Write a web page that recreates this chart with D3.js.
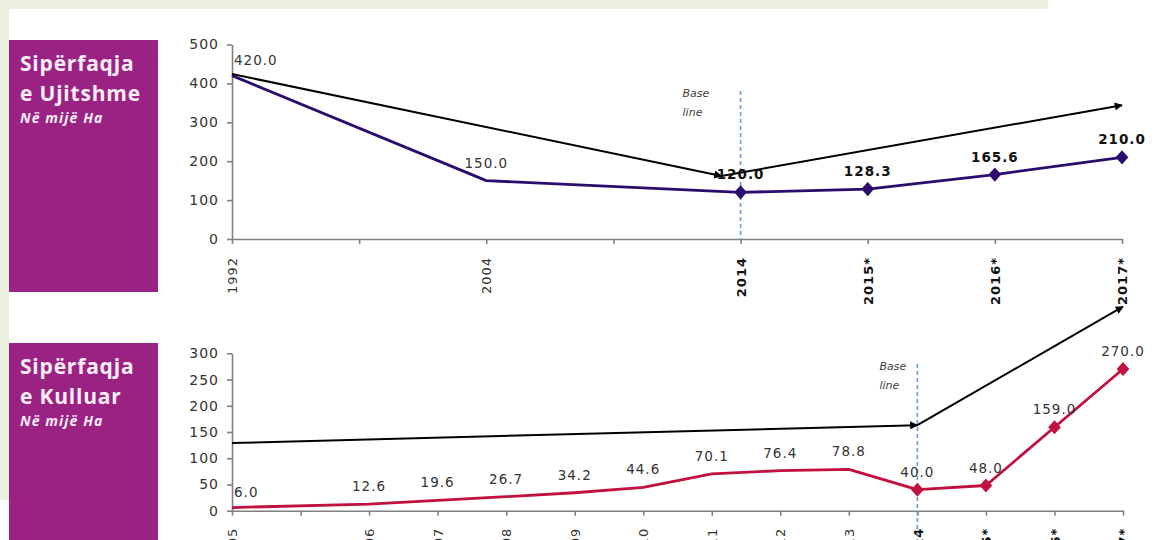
<!DOCTYPE html>
<html>
<head>
<meta charset="utf-8">
<script src="https://cdn.jsdelivr.net/npm/d3@7"></script>
<style>
  body { margin: 0; background: #fff; }
  svg { display: block; }
</style>
</head>
<body>
<svg id="chart" width="1157" height="540"></svg>
<script>
// Irrigated area, thousand ha
const irrCategories = ["1992", "", "2004", "", "2014", "2015*", "2016*", "2017*"];
const irrValues = [420.0, null, 150.0, null, 120.0, 128.3, 165.6, 210.0];
const irrTicks = [0, 100, 200, 300, 400, 500];
// trend arrows as [category position, value]
const irrTrendDown = [[0, 424], [3.85, 162]];
const irrTrendUp = [[3.85, 162], [7, 344]];

// Drained area, thousand ha
const culCategories = ["2005", "", "2006", "2007", "2008", "2009", "2010", "2011", "2012", "2013", "2014", "2015*", "2016*", "2017*"];
const culValues = [6.0, null, 12.6, 19.6, 26.7, 34.2, 44.6, 70.1, 76.4, 78.8, 40.0, 48.0, 159.0, 270.0];
const culTicks = [0, 50, 100, 150, 200, 250, 300];
const culTrendFlat = [[0, 129], [10, 163]];
const culTrendUp = [[10, 163], [13, 389]];

const baseYear = "2014";

const svg = d3.select("#chart");

// page background frame
svg.append("rect").attr("x", 0).attr("y", 0).attr("width", 1048).attr("height", 500).attr("fill", "#ebf1de");
svg.append("rect").attr("x", 9).attr("y", 9).attr("width", 1148).attr("height", 531).attr("fill", "#ffffff");

const defs = svg.append("defs");
defs.append("marker")
  .attr("id", "arrow")
  .attr("viewBox", "0 0 10 10")
  .attr("refX", 9).attr("refY", 5)
  .attr("markerWidth", 10).attr("markerHeight", 8)
  .attr("markerUnits", "userSpaceOnUse")
  .attr("orient", "auto")
  .append("path").attr("d", "M0,0 L10,5 L0,10 Z").attr("fill", "#000");

// wide diamond marker
const wideDiamond = {
  draw(ctx, size) {
    const h = Math.sqrt(size) * 0.55, w = h * 0.9;
    ctx.moveTo(0, -h); ctx.lineTo(w, 0); ctx.lineTo(0, h); ctx.lineTo(-w, 0); ctx.closePath();
  }
};

function titleBox(y, h, lines) {
  svg.append("rect").attr("x", 9).attr("y", y).attr("width", 149).attr("height", h).attr("fill", "#9a2283");
  const t = svg.append("g").attr("font-family", "'Open Sans', sans-serif").attr("fill", "#fbeef8");
  t.append("text").attr("x", 20).attr("y", y + 31).attr("font-size", 21).attr("font-weight", 700)
    .attr("letter-spacing", 0.8).text(lines[0]);
  t.append("text").attr("x", 20).attr("y", y + 61).attr("font-size", 21).attr("font-weight", 700)
    .attr("letter-spacing", 0.8).text(lines[1]);
  t.append("text").attr("x", 20).attr("y", y + 83).attr("font-size", 14).attr("font-weight", 700)
    .attr("font-style", "italic").attr("letter-spacing", 1.1).text(lines[2]);
}

function panel(cfg) {
  const n = cfg.categories.length;
  const baseIdx = cfg.categories.indexOf(baseYear);
  const x = d3.scaleLinear().domain([0, n - 1]).range([cfg.x0, cfg.x1]);
  const y = d3.scaleLinear().domain([0, d3.max(cfg.ticks)]).range([cfg.yBottom, cfg.yTop]);
  const g = svg.append("g");

  // y axis
  const ya = g.append("g").attr("transform", `translate(${cfg.x0},0)`)
    .call(d3.axisLeft(y).tickValues(cfg.ticks).tickSize(5).tickSizeOuter(0).tickPadding(8));
  ya.selectAll("path,line").attr("stroke", "#808080").attr("stroke-width", 1.6);
  ya.selectAll("text").attr("font-family", "'DejaVu Sans', sans-serif").attr("font-size", 14)
    .attr("letter-spacing", 1).attr("fill", "#333");

  // x axis
  const xa = g.append("g").attr("transform", `translate(0,${cfg.yBottom})`)
    .call(d3.axisBottom(x).tickValues(d3.range(n)).tickFormat(i => cfg.categories[i])
      .tickSize(5).tickSizeOuter(0));
  xa.selectAll("path,line").attr("stroke", "#808080").attr("stroke-width", 1.6);
  xa.selectAll("text")
    .attr("transform", "rotate(-90)")
    .attr("x", -cfg.labelGap).attr("y", 0).attr("dy", "0.36em")
    .attr("text-anchor", "end")
    .attr("font-family", "'DejaVu Sans', sans-serif").attr("font-size", 13)
    .attr("letter-spacing", 1)
    .attr("font-weight", (d) => d >= baseIdx ? 700 : 400)
    .attr("fill", (d) => d >= baseIdx ? "#111" : "#333");

  // baseline marker
  g.append("line")
    .attr("x1", x(baseIdx)).attr("x2", x(baseIdx))
    .attr("y1", cfg.baseTop).attr("y2", cfg.baseBottom)
    .attr("stroke", "#6a9bd8").attr("stroke-width", 1.6).attr("stroke-dasharray", "4,3");
  const bl = g.append("g").attr("font-family", "'DejaVu Sans', sans-serif").attr("font-size", 11)
    .attr("font-style", "italic").attr("fill", "#404040");
  bl.append("text").attr("x", x(baseIdx) - cfg.baseLabelDx).attr("y", cfg.baseTop + 6).text("Base");
  bl.append("text").attr("x", x(baseIdx) - cfg.baseLabelDx).attr("y", cfg.baseTop + 25).text("line");

  // trend arrows
  const tl = d3.line().x(d => x(d[0])).y(d => y(d[1]));
  cfg.trends.forEach(t => {
    g.append("path").attr("d", tl(t)).attr("fill", "none").attr("stroke", "#000")
      .attr("stroke-width", 2).attr("marker-end", "url(#arrow)");
  });

  // series
  const pts = cfg.values.map((v, i) => ({ i, v })).filter(d => d.v != null);
  g.append("path")
    .attr("d", d3.line().x(d => x(d.i)).y(d => y(d.v))(pts))
    .attr("fill", "none").attr("stroke", cfg.color).attr("stroke-width", 2.8)
    .attr("stroke-linejoin", "round");
  g.selectAll(".mk").data(pts.filter(d => d.i >= baseIdx)).join("path")
    .attr("transform", d => `translate(${x(d.i)},${y(d.v)})`)
    .attr("d", d3.symbol(wideDiamond, 165))
    .attr("fill", cfg.color);

  // value labels
  g.selectAll(".lb").data(pts).join("text")
    .attr("x", d => d.i === 0 ? x(d.i) + 2 : x(d.i))
    .attr("y", d => y(d.v) - (d.i === 0 ? 11 : 13))
    .attr("text-anchor", d => d.i === 0 ? "start" : "middle")
    .attr("font-family", "'DejaVu Sans', sans-serif").attr("font-size", 13.5)
    .attr("letter-spacing", 1)
    .attr("font-weight", d => cfg.boldLabels && d.i >= baseIdx ? 700 : 400)
    .attr("fill", d => cfg.boldLabels && d.i >= baseIdx ? "#111" : "#333")
    .text(d => d.v.toFixed(1));
}

titleBox(40, 252, ["Sipërfaqja", "e Ujitshme", "Në mijë Ha"]);
titleBox(343, 197, ["Sipërfaqja", "e Kulluar", "Në mijë Ha"]);

panel({
  categories: irrCategories, values: irrValues, ticks: irrTicks,
  trends: [irrTrendDown, irrTrendUp],
  x0: 232, x1: 1122, yBottom: 239, yTop: 44.5,
  labelGap: 18, baseTop: 91, baseBottom: 241, baseLabelDx: 58,
  color: "#2b0c6e", boldLabels: true
});

panel({
  categories: culCategories, values: culValues, ticks: culTicks,
  trends: [culTrendFlat, culTrendUp],
  x0: 232, x1: 1123, yBottom: 510.7, yTop: 353.3,
  labelGap: 17, baseTop: 364, baseBottom: 540, baseLabelDx: 38,
  color: "#c0113f", boldLabels: false
});
</script>
</body>
</html>
